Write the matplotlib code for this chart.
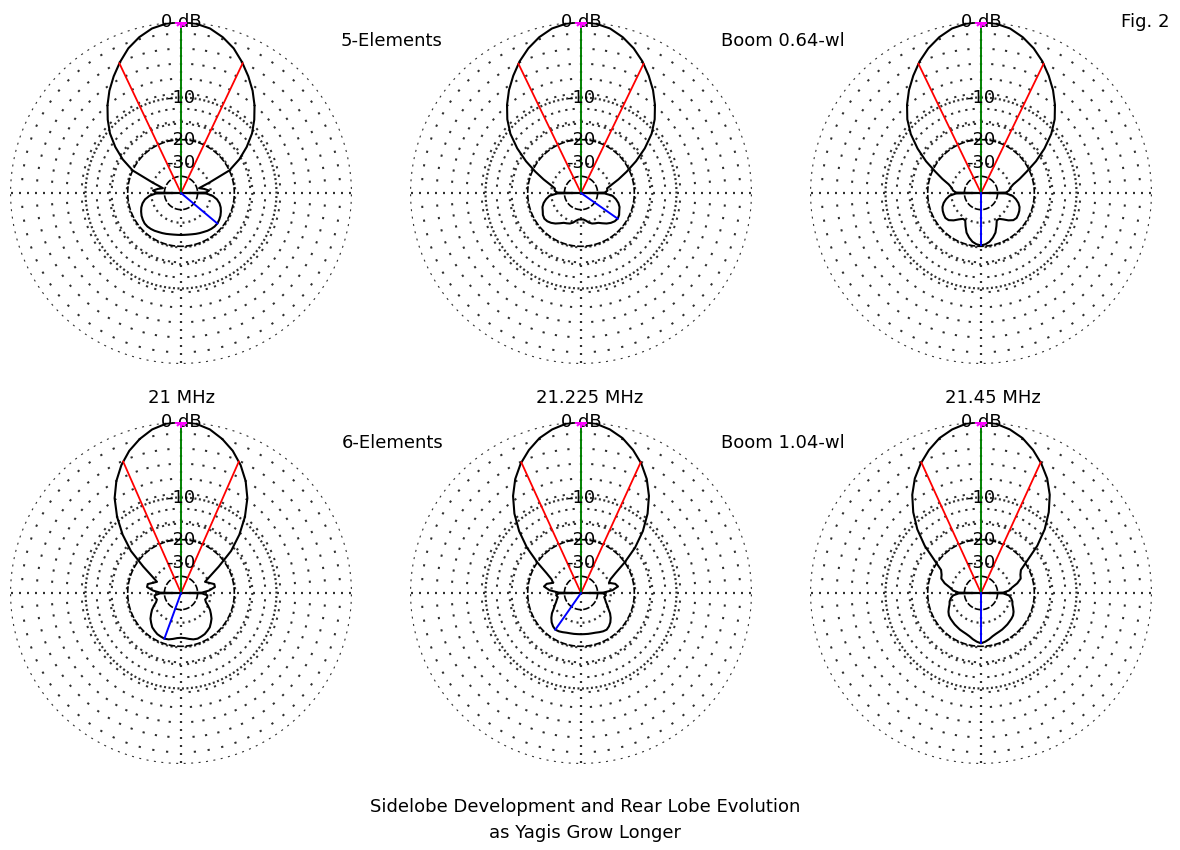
import numpy as np
import matplotlib.pyplot as plt

plt.rcParams['font.family'] = ['DejaVu Sans']

# azimuth in degrees from boresight (right half, patterns are symmetric)
az = [0, 5, 10, 15, 20, 25, 30, 35, 40, 45, 50, 55, 60, 65, 70, 75, 80, 85,
      89, 90, 91, 95, 100, 105, 110, 115, 120, 125, 130, 135, 140, 145, 150,
      155, 160, 165, 170, 175, 180]

# relative gain, dB
el5_f1 = [0, -0.1, -0.4, -1.0, -1.8, -2.9, -4.1, -5.4, -6.9, -8.6, -10.5, -13.0,
          -16.0, -20.0, -30, -38, -34, -31, -33, -99, -33, -29, -26.5, -25, -24,
          -23.3, -22.7, -22.3, -22.0, -22.0, -22.2, -22.5, -22.9, -23.2, -23.5,
          -23.8, -24, -24.1, -24.1]
el5_f2 = [0, -0.1, -0.4, -1.0, -1.8, -2.8, -4.0, -5.3, -6.8, -8.5, -10.6, -13.5,
          -17.0, -21.0, -25, -29, -32, -32, -34, -99, -34, -29, -27, -25.5,
          -24.5, -24, -23.3, -23, -23.3, -24, -25, -26.3, -27.5, -28, -28.5,
          -29.5, -31, -32, -32]
el5_f3 = [0, -0.1, -0.4, -1.0, -1.8, -2.8, -4.0, -5.3, -6.8, -8.5, -10.7, -13.6,
          -17.0, -21.0, -24.5, -28, -30, -31, -33, -99, -33, -29, -27, -25.5,
          -24.5, -24, -23.7, -23.5, -24, -25.5, -27.5, -29, -29, -26.5, -24,
          -22.5, -21.3, -20.6, -20.3]
el6_f1 = [0, -0.1, -0.5, -1.2, -2.1, -3.3, -4.8, -6.7, -9.3, -12.5, -16.5, -22.5,
          -28, -32, -30, -27.5, -27.5, -31, -36, -99, -36, -32, -32, -33, -32,
          -30, -28, -26.5, -25, -24, -23, -22.5, -22, -21.8, -21.6, -21.8,
          -22.3, -22.8, -23]
el6_f2 = [0, -0.1, -0.5, -1.1, -2.0, -3.1, -4.5, -6.3, -8.6, -11.5, -15.2, -20,
          -25, -28.5, -30, -27, -26, -29, -35, -99, -35, -33, -34, -33, -32,
          -30.5, -29, -27, -25.5, -24.3, -23.5, -23.0, -23.2, -23.6, -24,
          -24.2, -24.3, -24.4, -24.4]
el6_f3 = [0, -0.1, -0.5, -1.1, -2.0, -3.1, -4.4, -6.1, -8.3, -11, -14.5, -19,
          -22.5, -23.5, -24, -26, -29, -31, -35, -99, -35, -31, -29.5, -28.5,
          -28, -27, -26, -25.3, -25, -24.8, -24.5, -24.3, -24, -23.8, -23.5,
          -23, -22.2, -21.5, -21]

patterns = [el5_f1, el5_f2, el5_f3, el6_f1, el6_f2, el6_f3]
freq_labels = ['21 MHz', '21.225 MHz', '21.45 MHz']
# which side the rear-lobe marker is drawn on
rear_side = [1, 1, 1, -1, -1, 1]

W, H = 1180, 850
centers = [(181, 193), (581, 193), (981, 193),
           (181, 593), (581, 593), (981, 593)]
R = 171


def arrl(db):
    # ARRL log-periodic scale: 0.89 per 2 dB
    return 0.89 ** (-np.asarray(db, dtype=float) / 2)


def dotted(spacing_px, lw):
    step = spacing_px * 72 / 100 / lw
    return (0, (0.9, step - 0.9))


fig = plt.figure(figsize=(W / 100, H / 100), dpi=100)
fig.patch.set_facecolor('white')

az_arr = np.array(az, dtype=float)
full_th = np.deg2rad(np.concatenate([az_arr, 360 - az_arr[::-1]]))
ring_th = np.linspace(0, 2 * np.pi, 721)
dot_col = '#303030'
dot_lw = 1.6

for k, (db, (cx, cy)) in enumerate(zip(patterns, centers)):
    ax = fig.add_axes([(cx - R) / W, 1 - (cy + R) / H, 2 * R / W, 2 * R / H],
                      projection='polar')
    ax.set_theta_zero_location('N')
    ax.set_theta_direction(-1)
    ax.set_ylim(0, 1)
    ax.axis('off')

    # grid rings
    for ring, sp in [(0, 7.5), (-10, 4.5), (-15, 8), (-30, 6)]:
        ax.plot(ring_th, np.full_like(ring_th, arrl(ring)), color=dot_col,
                lw=dot_lw, ls=dotted(sp, dot_lw), dash_capstyle='butt', zorder=1)
    for ring in [-20, -40]:
        ax.plot(ring_th, np.full_like(ring_th, arrl(ring)), color='black',
                lw=1.2, ls=(0, (4, 1.2)), zorder=2)
    # radials every 5 degrees
    for a in range(0, 360, 5):
        t = np.deg2rad(a)
        if a % 90 == 0:
            ax.plot([t, t], [0, 1], color=dot_col, lw=dot_lw,
                    ls=dotted(8, dot_lw), dash_capstyle='butt', zorder=1)
        else:
            ax.plot([t, t], [arrl(-20), 1], color=dot_col, lw=dot_lw,
                    ls=dotted(15, dot_lw), dash_capstyle='butt', zorder=1)

    # pattern
    db_arr = np.array(db, dtype=float)
    full_r = arrl(np.concatenate([db_arr, db_arr[::-1]]))
    ax.plot(full_th, full_r, color='black', lw=1.5, zorder=3)

    # -3 dB beamwidth lines
    main = az_arr <= 60
    half = np.interp(3, -db_arr[main], az_arr[main])
    for s in (-1, 1):
        ax.plot([0, np.deg2rad(s * half)], [0, arrl(-3)], color='red',
                lw=1.3, zorder=4)
    # forward maximum
    ax.plot([0, 0], [0, 1], color='green', lw=1.4, zorder=4)
    # rear lobe maximum
    rear = az_arr >= 95
    i = np.argmax(db_arr[rear])
    a_rear = az_arr[rear][i]
    ax.plot([0, np.deg2rad(rear_side[k] * a_rear)], [0, arrl(db_arr[rear][i])],
            color='blue', lw=1.4, zorder=4)

    ax.text(0, 1, '0 dB', ha='center', va='center', fontsize=13, zorder=6)
    ax.plot([0], [1], marker='+', ms=8, mew=1.5, color='magenta', zorder=7)
    ax.plot([0], [1], marker='x', ms=6, mew=1.5, color='magenta', zorder=7)
    for lvl in (-10, -20, -30):
        ax.text(0, arrl(lvl), str(lvl), ha='center', va='center',
                fontsize=13, zorder=6)

for x, lab in zip([181, 590, 993], freq_labels):
    fig.text(x / W, 1 - 398 / H, lab, ha='center', va='center', fontsize=13)

fig.text(392 / W, 1 - 41 / H, '5-Elements', ha='center', va='center', fontsize=13)
fig.text(783 / W, 1 - 41 / H, 'Boom 0.64-wl', ha='center', va='center', fontsize=13)
fig.text(393 / W, 1 - 443 / H, '6-Elements', ha='center', va='center', fontsize=13)
fig.text(783 / W, 1 - 443 / H, 'Boom 1.04-wl', ha='center', va='center', fontsize=13)
fig.text(1145 / W, 1 - 22 / H, 'Fig. 2', ha='center', va='center', fontsize=13)
fig.text(585 / W, 1 - 807 / H, 'Sidelobe Development and Rear Lobe Evolution',
         ha='center', va='center', fontsize=13)
fig.text(585 / W, 1 - 833 / H, 'as Yagis Grow Longer',
         ha='center', va='center', fontsize=13)

fig.savefig('out.png', dpi=100)
